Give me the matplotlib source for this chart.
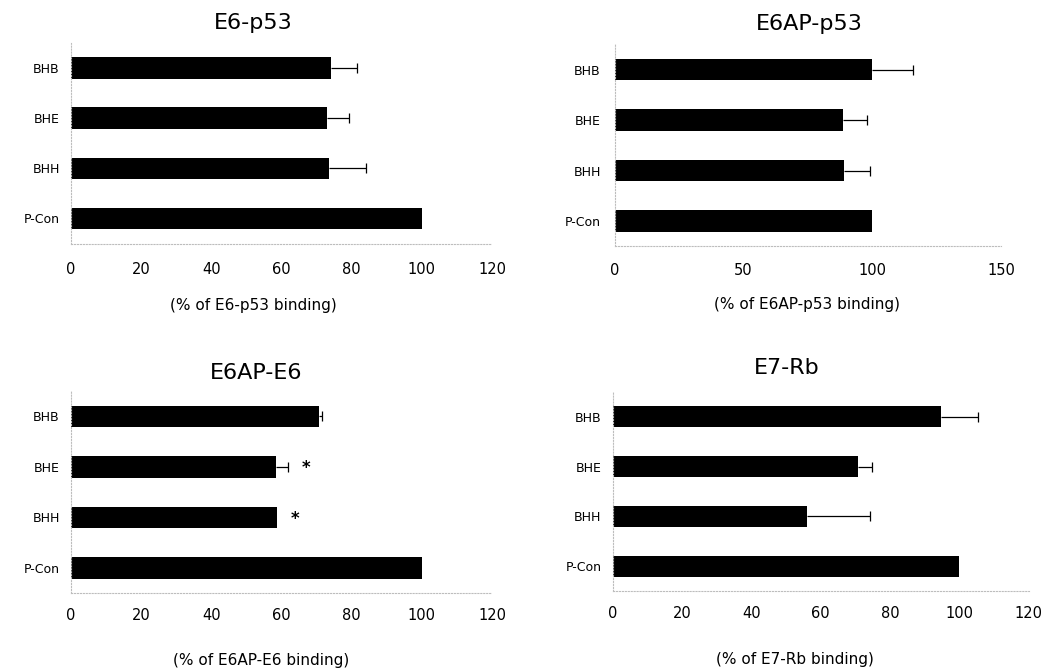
import matplotlib
matplotlib.use('Agg')
import matplotlib.pyplot as plt
import numpy as np

plt.rcParams['font.family'] = ['DejaVu Sans']

CATEGORIES = ['BHB', 'BHE', 'BHH', 'P-Con']

E6_P53 = [74.0, 73.0, 73.5, 100.0]
E6_P53_ERR = [7.6, 6.2, 10.7, 0.0]

E6AP_P53 = [100.0, 88.5, 89.0, 100.0]
E6AP_P53_ERR = [16.0, 9.6, 10.0, 0.0]

E6AP_E6 = [70.7, 58.5, 58.7, 100.0]
E6AP_E6_ERR = [0.9, 3.3, 0.0, 0.0]
E6AP_E6_SIG = ['', '*', '*', '']

E7_RB = [94.6, 70.8, 56.0, 100.0]
E7_RB_ERR = [10.9, 3.9, 18.2, 0.0]

BAR_H = 0.43
SPINE_COLOR = '#bdbdbd'


def binding_panel(ax, title, vals, errs, xmax, xstep, label,
                  title_x=0.5, label_x=0.5, sig=None, ypad=10, xpad=12,
                  title_pad=9, label_pad=18):
    y = np.arange(len(CATEGORIES))
    vals = np.asarray(vals)
    errs = np.asarray(errs)
    ax.barh(y, vals, height=BAR_H, color='black', zorder=2)

    # only the upper whisker shows past the bar end
    has_err = errs > 0
    _, caps, _ = ax.errorbar(vals[has_err], y[has_err],
                             xerr=[np.zeros(has_err.sum()), errs[has_err]],
                             fmt='none', ecolor='black', elinewidth=0.9,
                             capsize=3.4, capthick=0.9, zorder=3)
    caps[0].set_visible(False)

    if sig is not None:
        for yi, (v, e, s) in enumerate(zip(vals, errs, sig)):
            if s:
                ax.annotate(s, xy=(v + e, yi), xytext=(13, -1),
                            textcoords='offset points', ha='center',
                            va='center', fontsize=12, fontweight='bold')

    ax.set_xlim(0, xmax)
    ax.set_ylim(len(CATEGORIES) - 0.5, -0.5)
    ax.set_xticks(np.arange(0, xmax + 1, xstep))
    ax.set_yticks(y)
    ax.set_yticklabels(CATEGORIES, fontsize=9)
    ax.tick_params(axis='x', length=0, pad=xpad, labelsize=10.5)
    ax.tick_params(axis='y', length=0, pad=ypad)

    for side in ('top', 'right'):
        ax.spines[side].set_visible(False)
    for side in ('left', 'bottom'):
        ax.spines[side].set_color(SPINE_COLOR)
        ax.spines[side].set_linestyle(':')
        ax.spines[side].set_linewidth(0.8)

    ax.set_title(title, fontsize=16, x=title_x, pad=title_pad)
    ax.set_xlabel(label, fontsize=11, labelpad=label_pad, x=label_x)


fig = plt.figure(figsize=(10.48, 6.71), dpi=100)

ax1 = fig.add_axes([0.0675, 0.637, 0.402, 0.299])
binding_panel(ax1, 'E6-p53', E6_P53, E6_P53_ERR, 120, 20,
              '(% of E6-p53 binding)', title_x=0.433, label_x=0.433,
              ypad=8, xpad=13.5, title_pad=10, label_pad=15)

ax2 = fig.add_axes([0.5865, 0.633, 0.3687, 0.301])
binding_panel(ax2, 'E6AP-p53', E6AP_P53, E6AP_P53_ERR, 150, 50,
              '(% of E6AP-p53 binding)', title_x=0.505, label_x=0.498,
              ypad=10, xpad=12, title_pad=10.5, label_pad=14)

ax3 = fig.add_axes([0.0675, 0.116, 0.402, 0.301])
binding_panel(ax3, 'E6AP-E6', E6AP_E6, E6AP_E6_ERR, 120, 20,
              '(% of E6AP-E6 binding)', title_x=0.441, label_x=0.453,
              sig=E6AP_E6_SIG, ypad=8, xpad=11, title_pad=8.5, label_pad=21)

ax4 = fig.add_axes([0.5846, 0.119, 0.397, 0.297])
binding_panel(ax4, 'E7-Rb', E7_RB, E7_RB_ERR, 120, 20,
              '(% of E7-Rb binding)', title_x=0.419, label_x=0.438,
              ypad=8, xpad=11, title_pad=13, label_pad=22)

fig.savefig('out.png', dpi=100, facecolor='white')
